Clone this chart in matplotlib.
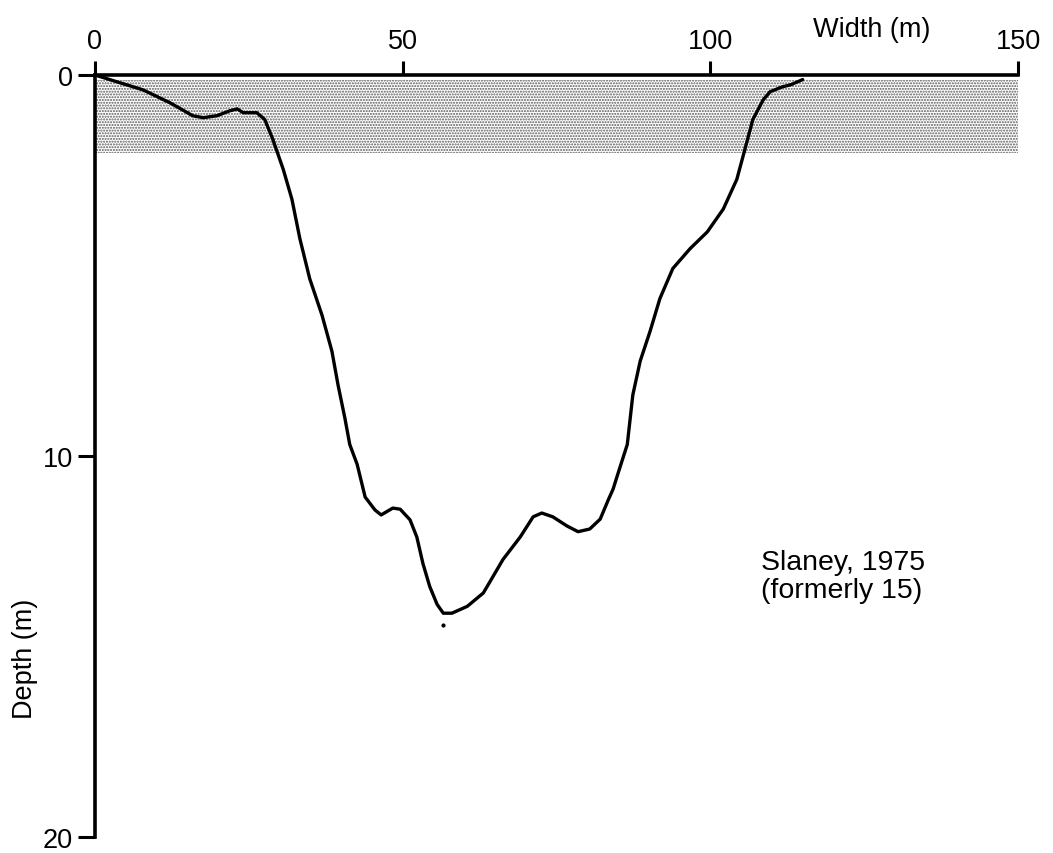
import matplotlib
matplotlib.use("Agg")
import matplotlib.pyplot as plt

plt.rcParams['font.family'] = ['Liberation Sans', 'DejaVu Sans']
plt.rcParams['hatch.linewidth'] = 1.0

# channel cross-section: distance across (m) and depth (m)
width = [0, 3.6, 7.8, 12.2, 15.9, 17.6, 19.8, 21.9, 23.1, 24.1, 26.3, 27.6,
         28.9, 30.6, 32.0, 33.3, 34.9, 36.9, 38.5, 39.5, 40.6, 41.4, 42.6,
         43.9, 45.5, 46.5, 48.4, 49.6, 51.2, 52.3, 53.3, 54.4, 55.6, 56.6,
         58.0, 60.5, 63.1, 64.2, 66.3, 69.1, 71.2, 72.6, 74.4, 76.7, 78.5,
         80.4, 82.1, 83.4, 84.2, 84.8, 86.5, 87.4, 88.6, 90.2, 91.8, 93.9,
         96.7, 99.5, 102.1, 104.3, 105.6, 106.9, 108.6, 109.7, 111.7, 113.0,
         115.0]
depth = [0, 0.18, 0.39, 0.73, 1.07, 1.12, 1.07, 0.94, 0.89, 0.99, 0.99, 1.17,
         1.69, 2.48, 3.26, 4.30, 5.35, 6.31, 7.25, 8.14, 9.00, 9.70, 10.22,
         11.08, 11.42, 11.55, 11.37, 11.40, 11.68, 12.13, 12.83, 13.43, 13.90,
         14.13, 14.13, 13.95, 13.60, 13.30, 12.72, 12.13, 11.60, 11.50, 11.60,
         11.84, 11.99, 11.92, 11.66, 11.16, 10.87, 10.56, 9.70, 8.40, 7.51,
         6.73, 5.87, 5.08, 4.56, 4.12, 3.52, 2.74, 1.96, 1.17, 0.65, 0.44,
         0.31, 0.26, 0.12]
deepest_x, deepest_y = 56.6, 14.45
shade_top, shade_bottom = 0, 2.05
x_ticks = [0, 50, 100, 150]
y_ticks = [0, 10, 20]

fig = plt.figure(figsize=(10.53, 8.54), dpi=100)
ax = fig.add_axes([0.0902, 0.019, 0.8766, 0.892])

# stippled surface layer
ax.fill_between([0, 150], shade_top + 0.12, shade_bottom, facecolor='white',
                edgecolor='#5a5a5a', hatch='......', linewidth=0, zorder=1)
ax.plot(width, depth, color='black', lw=2.4, solid_joinstyle='round',
        solid_capstyle='round', zorder=3)
ax.plot([deepest_x], [deepest_y], 'k.', ms=4)

ax.set_xlim(0, 150)
ax.set_ylim(20, 0)
ax.xaxis.tick_top()
ax.set_xticks(x_ticks)
ax.set_yticks(y_ticks)
ax.tick_params(axis='x', direction='out', length=10, width=2.2, labelsize=19.5, pad=5)
ax.tick_params(axis='y', direction='out', length=12, width=2.2, labelsize=19.5, pad=4)
for s in ['bottom', 'right']:
    ax.spines[s].set_visible(False)
for s in ['top', 'left']:
    ax.spines[s].set_linewidth(2.6)

fig.text(0.828, 0.965, 'Width (m)', fontsize=19.5, ha='center', va='center')
fig.text(0.024, 0.229, 'Depth (m)', fontsize=19.5, ha='center', va='center', rotation=90)
ax.text(108.3, 12.45, 'Slaney, 1975\n(formerly 15)', fontsize=20.5, ha='left', va='top',
        linespacing=1.1)

fig.savefig('out.png', dpi=100)
